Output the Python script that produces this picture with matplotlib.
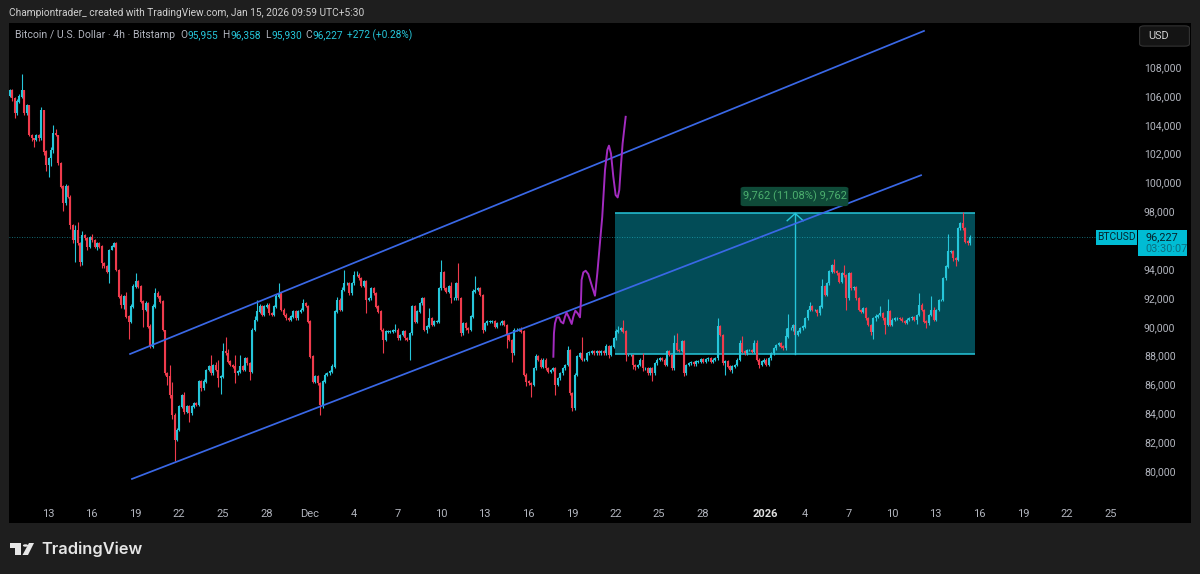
#!/usr/bin/env python3
"""BTCUSD 4h chart with channel, long-range box and a projected path."""

import matplotlib

matplotlib.use("Agg")
import matplotlib.pyplot as plt
import numpy as np
from matplotlib.patches import FancyBboxPatch, Polygon, Rectangle

plt.rcParams["font.family"] = ["Roboto", "DejaVu Sans"]

W, H = 1200, 574

# 4h closes in thousand USD
FIRST_OPEN = 106.0
closes = [
    106.4, 105.85, 104.79, 105.6, 105.94, 106.4, 104.79, 105.36, 103.29, 103.05,
    102.94, 103.29, 103.05, 105.02, 102.13, 101.2, 101.67, 102.25, 103.4, 103.29,
    101.32, 99.7, 98.55, 99.7, 99.0, 97.05, 96.0, 96.66, 95.78, 94.5,
    96.36, 96.13, 95.55, 96.2, 96.0, 95.55, 95.78, 95.55, 94.4,
    94.2, 93.8, 95.3, 95.55, 95.78, 93.93, 92.08, 91.5, 92.08, 90.7,
    90.35, 91.4, 92.77, 93.12, 92.77, 91.74, 91.16, 91.6, 90.0, 88.6,
    91.4, 92.3, 92.08, 91.74, 89.77,
    # late Nov
    86.78, 86.55, 85.27, 83.89, 82.16, 82.85, 84.47, 85.27, 84.12, 84.47,
    84.0, 84.47, 84.7, 84.58, 86.2, 85.74, 86.2, 87.0, 87.24, 86.78,
    87.35, 87.0, 86.43, 86.55, 88.28, 88.16, 87.58, 87.35, 87.24, 86.78,
    86.89, 87.24, 87.0, 87.82, 87.47, 86.89, 89.78, 90.47, 91.05, 91.4,
    90.82, 91.4, 91.51, 90.93, 90.82, 91.4, 92.09, 92.32, 91.17, 90.82,
    90.59, 90.47, 90.7, 91.05, 90.59, 91.05, 91.17, 91.63,
    91.44, 90.36, 87.93, 86.2, 86.55, 86.08, 84.58, 86.2, 86.66, 86.78,
    86.89, 87.24, 91.05, 91.86, 91.17, 92.55, 93.0,
    # Dec
    93.0, 92.32, 93.0, 93.59, 93.59, 93.36, 92.83, 93.13, 91.85, 91.97,
    92.66, 92.32, 91.39, 91.05, 89.78, 89.08, 89.66, 89.66, 89.66, 89.73,
    89.78, 89.2, 89.43, 89.66, 89.2, 89.08, 89.55, 91.39, 90.35, 91.05,
    91.62, 91.97, 89.78, 90.01, 90.58, 90.12, 90.35, 90.35, 92.66, 93.75,
    92.66, 92.43, 92.78, 91.97, 91.97, 93.0, 91.97, 89.55, 90.24, 89.89,
    89.78, 90.7, 92.43, 92.55, 92.66, 92.2, 89.78, 90.24, 90.35, 90.35,
    90.35, 90.01, 90.24, 90.24, 90.35, 90.12, 89.43, 89.08, 88.16, 89.78,
    89.78, 89.78, 89.66, 86.66, 86.2, 86.08, 85.96, 87.12, 87.93,
    # mid Dec to Jan
    87.7, 87.23, 87.7, 87.12, 86.89, 87.0, 87.12, 85.96, 86.42, 86.77,
    87.12, 87.35, 88.39, 85.39, 84.35, 86.66, 87.92, 88.16, 87.7, 87.7,
    88.16, 88.2, 88.27, 88.16, 88.27, 88.16, 88.27, 88.16,
    88.62, 88.04, 88.62, 89.2, 89.66, 89.77, 89.89, 89.66, 88.04, 88.04,
    88.04, 87.35, 87.23, 87.35, 87.7, 87.12, 87.12, 86.77, 87.12, 86.77,
    87.46, 87.7, 87.81, 87.7, 87.35, 88.27, 88.04, 87.12, 88.85, 88.39,
    88.34, 88.97, 86.77, 87.35, 87.46, 87.51, 87.39, 87.58, 87.58,
    87.76, 87.58, 87.74, 87.81, 87.58, 87.7, 87.81, 90.0, 89.43, 87.46,
    87.58, 87.23, 87.0, 87.23, 87.35, 87.7, 88.85, 88.27, 88.16, 88.39,
    88.39, 88.27, 88.85, 87.7, 87.35, 87.58, 87.7, 87.35, 87.81, 88.16,
    88.5, 88.73, 88.85,
    # Jan
    88.62, 88.5, 89.31, 89.89, 89.89, 90.12, 89.43, 89.66, 89.89, 90.0,
    90.58, 91.16, 91.39, 91.16, 91.16, 90.93, 91.39, 92.78, 92.2,
    93.01, 93.82, 94.28, 93.82, 93.7, 93.12, 93.7, 93.58, 91.97, 93.7,
    92.66, 92.73, 91.97, 91.16, 91.05, 91.28, 90.58, 90.12, 89.66, 90.58,
    90.7, 90.81, 90.93, 90.58, 90.12, 91.05, 90.12, 90.47, 90.58,
    90.58, 90.54, 90.4, 90.28, 90.47, 90.58, 90.65, 90.47,
    90.81, 91.51, 91.16, 90.35, 90.24, 90.81, 91.16, 90.47, 91.16, 91.85,
    91.85, 93.35, 94.16, 95.2, 95.2, 94.74, 94.63, 96.82, 97.17, 96.82,
    95.9, 95.78, 96.227,
]

# wick lengths beyond the body, in hundreds of USD
upper_wick = [
    1, 1, 1, 2, 2, 11, 0, 1, 0, 1,
    0, 1, 1, 2, 0, 1, 1, 2, 6, 3,
    0, 1, 1, 2, 1, 1, 1, 4, 6, 1,
    3, 1, 1, 1, 2, 1, 1, 1, 1,
    1, 1, 1, 1, 1, 1, 1, 2, 1, 3,
    1, 2, 2, 6, 1, 1, 1, 2, 1, 2,
    2, 4, 2, 1, 1,
    0, 1, 8, 9, 1, 1, 1, 1, 2, 1,
    1, 1, 1, 1, 1, 1, 2, 1, 1, 8,
    1, 2, 7, 1, 6, 10, 3, 1, 1, 8,
    1, 8, 1, 1, 1, 1, 1, 3, 8, 2,
    1, 1, 1, 1, 1, 1, 2, 7, 1, 1,
    1, 1, 1, 1, 1, 1, 1, 3,
    1, 1, 1, 1, 1, 1, 1, 1, 1, 1,
    1, 2, 1, 2, 1, 2, 9,
    1, 1, 1, 3, 3, 1, 1, 1, 1, 1,
    1, 1, 1, 1, 1, 1, 1, 1, 1, 1,
    4, 1, 1, 1, 1, 1, 1, 1, 1, 1,
    1, 1, 1, 1, 7, 1, 1, 1, 1, 9,
    1, 1, 1, 3, 1, 1, 14, 1, 1, 1,
    1, 1, 2, 10, 1, 1, 1, 1, 1, 1,
    1, 1, 1, 1, 1, 1, 1, 1, 1, 1,
    1, 1, 2, 1, 1, 1, 1, 1, 2,
    1, 1, 1, 1, 1, 1, 1, 1, 1, 1,
    1, 1, 3, 1, 1, 1, 1, 1, 11, 1,
    1, 1, 1, 1, 1, 1, 1, 1,
    2, 1, 1, 1, 2, 3, 1, 6, 1, 1,
    1, 1, 1, 1, 1, 5, 1, 1, 1, 1,
    1, 1, 1, 1, 1, 1, 1, 1, 6, 7,
    1, 1, 1, 1, 1, 1, 1, 1, 1,
    1, 1, 1, 1, 1, 1, 1, 6, 1, 1,
    1, 1, 1, 1, 1, 1, 2, 5, 1, 1,
    1, 1, 2, 2, 1, 1, 1, 1, 1, 1,
    1, 1, 1,
    1, 1, 6, 10, 1, 1, 1, 1, 1, 1,
    1, 1, 3, 1, 1, 1, 1, 5, 1,
    1, 1, 1, 4, 1, 1, 1, 6, 1, 1,
    1, 1, 1, 1, 1, 1, 1, 1, 1, 1,
    2, 1, 5, 1, 1, 9, 1, 1, 1,
    1, 1, 1, 1, 1, 1, 1, 1,
    1, 8, 1, 1, 1, 1, 10, 2, 1, 1,
    1, 1, 1, 12, 1, 1, 1, 1, 1, 8,
    1, 1, 1,
]
lower_wick = [
    1, 2, 3, 1, 1, 1, 1, 1, 1, 2,
    5, 1, 2, 1, 2, 4, 8, 5, 2, 1,
    1, 1, 5, 1, 1, 3, 2, 15, 1, 3,
    2, 1, 2, 1, 1, 1, 2, 1, 3,
    1, 1, 8, 0, 0, 1, 1, 2, 3, 1,
    12, 1, 1, 1, 1, 1, 12, 1, 1, 1,
    1, 1, 1, 1, 1,
    1, 6, 2, 3, 15, 1, 1, 1, 2, 1,
    6, 1, 1, 1, 1, 2, 1, 1, 1, 1,
    1, 1, 6, 11, 1, 1, 1, 1, 1, 7,
    1, 1, 1, 1, 1, 6, 1, 1, 1, 1,
    1, 1, 1, 1, 1, 1, 1, 1, 1, 1,
    1, 1, 1, 1, 1, 1, 1, 1,
    1, 1, 1, 1, 1, 1, 7, 2, 1, 1,
    1, 1, 1, 1, 1, 1, 1,
    1, 1, 1, 1, 1, 1, 1, 1, 9, 1,
    1, 1, 1, 1, 1, 9, 1, 1, 1, 1,
    1, 1, 1, 1, 1, 1, 14, 1, 1, 1,
    1, 1, 1, 2, 1, 1, 1, 1, 1, 1,
    1, 1, 1, 3, 1, 1, 1, 2, 1, 1,
    2, 1, 1, 1, 1, 1, 2, 1, 1, 1,
    1, 1, 1, 1, 1, 1, 9, 1, 6, 1,
    1, 1, 1, 1, 3, 1, 8, 1, 1,
    1, 1, 1, 1, 1, 1, 1, 7, 1, 1,
    1, 1, 1, 1, 2, 1, 1, 1, 1, 1,
    1, 1, 1, 1, 1, 1, 1, 1,
    1, 2, 1, 1, 1, 1, 1, 1, 4, 1,
    1, 3, 2, 1, 1, 2, 1, 1, 1, 5,
    1, 1, 1, 1, 1, 1, 1, 1, 1, 1,
    1, 1, 2, 1, 1, 1, 1, 1, 1,
    1, 1, 1, 1, 1, 1, 1, 1, 1, 1,
    8, 1, 1, 2, 1, 1, 1, 1, 1, 1,
    1, 1, 1, 1, 2, 1, 1, 1, 1, 1,
    1, 1, 1,
    1, 1, 1, 1, 1, 2, 1, 1, 1, 1,
    1, 1, 1, 1, 1, 2, 1, 1, 1,
    1, 1, 1, 1, 1, 1, 1, 1, 8, 1,
    1, 1, 1, 1, 1, 1, 1, 1, 2, 5,
    2, 1, 1, 1, 6, 1, 1, 1, 1,
    1, 1, 1, 1, 1, 1, 1, 1,
    3, 1, 1, 1, 3, 1, 1, 1, 1, 1,
    1, 1, 1, 1, 1, 2, 4, 1, 1, 1,
    1, 1, 1,
]

# x is days since Nov 13
LAST_BAR_DAY = 63.37
BARS_PER_DAY = 6

date_ticks = [0, 3, 6, 9, 12, 15, 18, 21, 24, 27, 30, 33, 36, 39, 42, 45, 49.3,
              52, 55, 58, 61, 64, 67, 70, 73]
date_labels = ["13", "16", "19", "22", "25", "28", "Dec", "4", "7", "10", "13",
               "16", "19", "22", "25", "28", "2026", "4", "7", "10", "13", "16",
               "19", "22", "25"]
price_ticks = [80, 82, 84, 86, 88, 90, 92, 94, 98, 100, 102, 104, 106, 108]

upper_channel_x = [5.64, 60.2]
upper_channel_y = [88.11, 110.5]
lower_channel_x = [5.77, 60.0]
lower_channel_y = [79.45, 100.5]

range_days = [38.97, 63.72]
range_low, range_high = 88.09, 97.85
arrow_day = 51.35
last_price = 96.227

path_days = [34.73, 34.77, 34.84, 34.96, 35.12, 35.25, 35.41, 35.53, 35.64, 35.78,
             35.99, 36.1, 36.24, 36.4, 36.56, 36.63, 36.67, 36.79, 36.95, 37.13,
             37.36, 37.59, 37.75, 37.93, 38.09, 38.28, 38.44, 38.55, 38.69, 38.85,
             39.01, 39.15, 39.26, 39.37, 39.49, 39.7]
path_prices = [87.92, 89.54, 90.23, 90.65, 90.65, 90.35, 90.23, 90.69, 90.97, 90.69,
               90.19, 90.69, 91.11, 90.93, 90.65, 91.85, 93.24, 93.77, 93.88, 93.65,
               92.89, 92.15, 93.7, 95.78, 97.62, 100.86, 102.25, 102.55, 102.01, 100.4,
               99.13, 98.96, 99.47, 101.09, 102.7, 104.55]

TEAL = "#26c6da"
RED = "#ef3b4c"
GRAY_TXT = "#b2b5be"
BG = "#1e1e1e"


def px(x, y):
    return x / W, 1 - y / H


def figbox(fig, x0, y0, x1, y1, **kw):
    fig.add_artist(Rectangle(px(x0, y1), (x1 - x0) / W, (y1 - y0) / H,
                             transform=fig.transFigure, **kw))


def main():
    fig = plt.figure(figsize=(W / 100, H / 100), dpi=100, facecolor=BG)
    figbox(fig, 9, 23, 1191, 523, facecolor="black", edgecolor="none", zorder=0)

    # chart pane, 14.55 px per day and 14.43 px per 1000 USD
    ax = fig.add_axes([9 / W, 1 - 499 / H, 1128 / W, 476 / H], facecolor="black", zorder=1)
    ax.set_xlim(-2.68, 74.84)
    ax.set_ylim(78.06, 111.05)
    for spine in ax.spines.values():
        spine.set_visible(False)

    ax.yaxis.tick_right()
    ax.set_yticks(price_ticks, [f"{t},000" for t in price_ticks])
    ax.tick_params(axis="y", length=0, pad=5, labelsize=7.6, labelcolor=GRAY_TXT)
    ax.set_xticks(date_ticks, date_labels)
    ax.tick_params(axis="x", length=0, pad=7, labelsize=8, labelcolor=GRAY_TXT)
    for label in ax.get_xticklabels():
        if label.get_text() == "2026":
            label.set_fontweight("bold")
            label.set_color("#e0e0e0")

    # long-range box
    ax.add_patch(Rectangle((range_days[0], range_low), range_days[1] - range_days[0],
                           range_high - range_low, facecolor="#024c57",
                           edgecolor="none", zorder=1))
    ax.hlines([range_low, range_high], *range_days, color=TEAL, lw=1.1, zorder=2)
    ax.plot([arrow_day, arrow_day], [range_low, range_high], color=TEAL, lw=1.0, zorder=4)
    ax.plot([arrow_day - 0.55, arrow_day, arrow_day + 0.55],
            [range_high - 0.5, range_high, range_high - 0.5], color=TEAL, lw=1.0, zorder=4)

    ax.axhline(last_price, color=TEAL, lw=0.6, ls=(0, (1, 2)), alpha=0.7, zorder=2)

    # candles
    c = np.array(closes)
    o = np.concatenate([[FIRST_OPEN], c[:-1]])
    hi = np.maximum(o, c) + np.array(upper_wick) * 0.1
    lo = np.minimum(o, c) - np.array(lower_wick) * 0.1
    x = LAST_BAR_DAY - (len(c) - 1 - np.arange(len(c))) / BARS_PER_DAY
    up = c >= o
    colors = np.where(up, TEAL, RED)
    ax.vlines(x, lo, hi, colors=colors, lw=0.8, zorder=3)
    ax.vlines(x, np.minimum(o, c), np.maximum(o, c) + 0.02, colors=colors, lw=1.5, zorder=3)

    # channel and drawn path
    ax.plot(upper_channel_x, upper_channel_y, color="#3a68e6", lw=1.25, zorder=5)
    ax.plot(lower_channel_x, lower_channel_y, color="#3a68e6", lw=1.25, zorder=5)
    ax.plot(path_days, path_prices, color="#a32bc0", lw=1.4, zorder=5,
            solid_joinstyle="round")

    # range label
    fig.add_artist(FancyBboxPatch(px(743, 205), 103 / W, 17 / H, transform=fig.transFigure,
                                  boxstyle="round,pad=0.002,rounding_size=0.003",
                                  facecolor="#0f4a38", edgecolor="none", zorder=6))
    fig.text(*px(794.5, 196.5), "9,762 (11.08%) 9,762", color="#4caf6e", fontsize=8,
             ha="center", va="center", zorder=7)

    # header and legend
    fig.text(*px(9, 13), "Championtrader_ created with TradingView.com, Jan 15, 2026 09:59 UTC+5:30",
             color="#d0d0d0", fontsize=7.3, va="center")
    fig.text(*px(15, 35), "Bitcoin / U.S. Dollar · 4h · Bitstamp", color=GRAY_TXT,
             fontsize=7.6, va="center", zorder=7)
    legend_bits = [(180, "O", GRAY_TXT), (187, "95,955", TEAL), (222, "H", GRAY_TXT),
                   (230, "96,358", TEAL), (265, "L", GRAY_TXT), (271, "95,930", TEAL),
                   (305, "C", GRAY_TXT), (313, "96,227", TEAL), (347, "+272 (+0.28%)", TEAL)]
    for xp, text, col in legend_bits:
        fig.text(*px(xp, 35), text, color=col, fontsize=7.3, va="center", zorder=7)

    # currency button and price tags
    fig.add_artist(FancyBboxPatch(px(1142, 45), 45 / W, 18 / H, transform=fig.transFigure,
                                  boxstyle="round,pad=0.002,rounding_size=0.004",
                                  facecolor="#141414", edgecolor="#333333", lw=0.8, zorder=6))
    fig.text(*px(1148, 36), "USD", color="#d0d0d0", fontsize=7.8, va="center", zorder=7)
    figbox(fig, 1096, 230, 1137, 245, facecolor="#00bcd4", edgecolor="none", zorder=6)
    figbox(fig, 1138, 230, 1187, 256, facecolor="#00bcd4", edgecolor="none", zorder=6)
    fig.text(*px(1116.5, 237.5), "BTCUSD", color="#06222a", fontsize=7.4, ha="center",
             va="center", zorder=7)
    fig.text(*px(1145, 237), "96,227", color="#06222a", fontsize=7.8, va="center", zorder=7)
    fig.text(*px(1145, 249), "03:30:07", color="#0b6f80", fontsize=7.8, va="center", zorder=7)

    # logo
    logo = "#e6e6e6"
    for pts in ([(10, 543), (21, 543), (21, 555), (15, 555), (15, 548), (10, 548)],
                [(29, 543), (34, 543), (28, 555), (22.5, 555)]):
        fig.add_artist(Polygon([px(*p) for p in pts], transform=fig.transFigure,
                               facecolor=logo, edgecolor="none"))
    fig.add_artist(plt.Circle(px(25.5, 545.5), 2.6 / W, transform=fig.transFigure,
                              facecolor=logo, edgecolor="none"))
    fig.text(*px(41, 549), "TradingView", color=logo, fontsize=11.8, fontweight="semibold",
             family=["Inter", "DejaVu Sans"], va="center")

    fig.savefig("out.png", dpi=100, facecolor=BG)
    plt.close(fig)


if __name__ == "__main__":
    main()
